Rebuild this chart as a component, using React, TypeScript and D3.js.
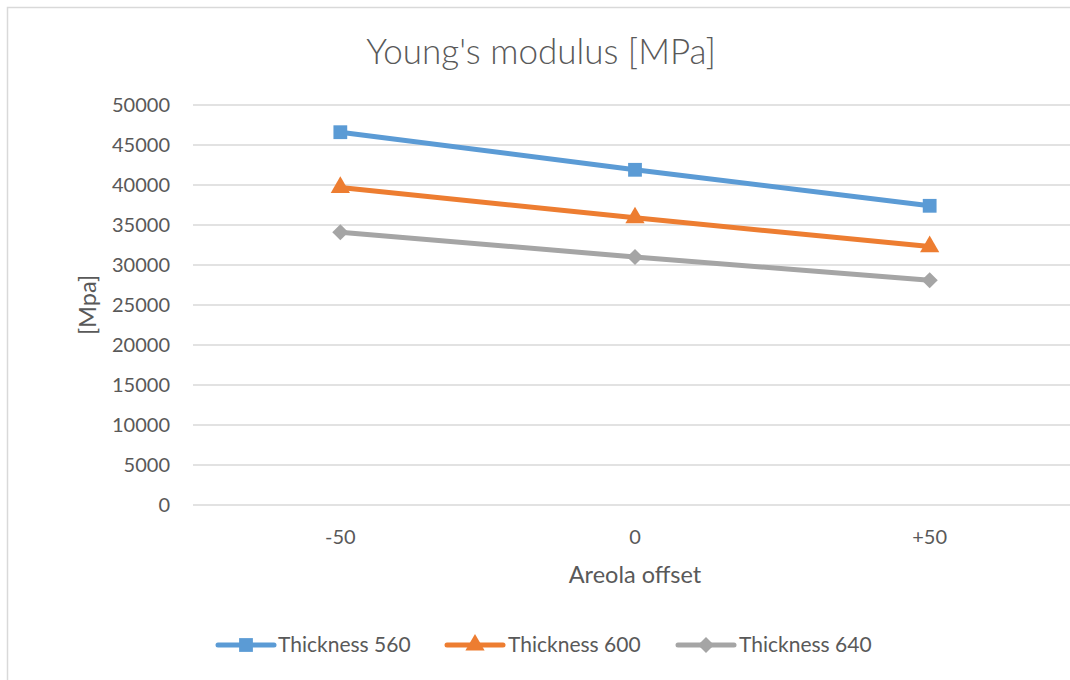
import * as d3 from 'd3';

const categories = ['-50', '0', '+50'];
const yTicks = [0, 5000, 10000, 15000, 20000, 25000, 30000, 35000, 40000, 45000, 50000];

const thickness560 = [46600, 41900, 37400];
const thickness600 = [39700, 35900, 32300];
const thickness640 = [34100, 31000, 28100];

const seriesNames = ['Thickness 560', 'Thickness 600', 'Thickness 640'];

interface Series {
  name: string;
  values: number[];
  color: string;
  marker: 'square' | 'triangle' | 'diamond';
}

const series: Series[] = [
  { name: seriesNames[0], values: thickness560, color: '#5B9BD5', marker: 'square' },
  { name: seriesNames[1], values: thickness600, color: '#ED7D31', marker: 'triangle' },
  { name: seriesNames[2], values: thickness640, color: '#A5A5A5', marker: 'diamond' },
];

const W = 1070;
const H = 680;
const FONT = 'Lato, "Open Sans", sans-serif';
const TEXT = '#595959';

// Excel-like diamond: a square turned 45 degrees
const wideDiamond: d3.SymbolType = {
  draw(context, size) {
    const r = Math.sqrt(size / 2);
    context.moveTo(0, -r);
    context.lineTo(r, 0);
    context.lineTo(0, r);
    context.lineTo(-r, 0);
    context.closePath();
  },
};

function markerPath(kind: Series['marker'], size: number) {
  const type = kind === 'square' ? d3.symbolSquare : kind === 'triangle' ? d3.symbolTriangle : wideDiamond;
  return d3.symbol().type(type).size(size)() || '';
}

export default function App() {
  const plot = { left: 193, right: 1077, top: 105, bottom: 505 };

  const x = d3.scaleBand().domain(categories).range([plot.left, plot.right]).padding(0);
  const y = d3.scaleLinear().domain([0, 50000]).range([plot.bottom, plot.top]);
  const cx = (c: string) => (x(c) || 0) + x.bandwidth() / 2;

  const line = d3
    .line<number>()
    .x((_, i) => cx(categories[i]))
    .y((d) => y(d));

  const sizes = { square: 190, triangle: 160, diamond: 130 };

  const legendItems = [
    { lineX: 218, textX: 278 },
    { lineX: 447, textX: 508 },
    { lineX: 678, textX: 739 },
  ];

  return (
    <div style={{ position: 'fixed', left: 0, top: 0 }}>
      <svg width={W} height={H} style={{ display: 'block', background: '#fff' }} fontFamily={FONT}>
        <rect x={7.5} y={7.5} width={W + 10} height={H + 10} fill="#fff" stroke="#D9D9D9" strokeWidth={1.5} />

        <text x={541} y={64} textAnchor="middle" fill={TEXT} fontSize={35} fontWeight={300}>
          Young's modulus [MPa]
        </text>

        {/* grid + y ticks */}
        {yTicks.map((t) => (
          <g key={t}>
            <line x1={plot.left} x2={plot.right} y1={y(t)} y2={y(t)} stroke="#D9D9D9" strokeWidth={1.5} />
            <text x={170} y={y(t)} dy="0.35em" textAnchor="end" fill={TEXT} fontSize={20}>
              {t}
            </text>
          </g>
        ))}

        {/* x labels */}
        {categories.map((c) => (
          <text key={c} x={cx(c)} y={537} dy="0.35em" textAnchor="middle" fill={TEXT} fontSize={20}>
            {c}
          </text>
        ))}

        <text x={635} y={575} dy="0.35em" textAnchor="middle" fill={TEXT} fontSize={23.5}>
          Areola offset
        </text>
        <text
          transform={`translate(88,${(plot.top + plot.bottom) / 2}) rotate(-90)`}
          textAnchor="middle"
          dy="0.35em"
          fill={TEXT}
          fontSize={23.5}
        >
          [Mpa]
        </text>

        {/* series */}
        {series.map((s) => (
          <g key={s.name}>
            <path d={line(s.values) || ''} fill="none" stroke={s.color} strokeWidth={5} strokeLinejoin="round" />
            {s.values.map((v, i) => (
              <path
                key={i}
                d={markerPath(s.marker, sizes[s.marker])}
                transform={`translate(${cx(categories[i])},${y(v)})`}
                fill={s.color}
              />
            ))}
          </g>
        ))}

        {/* legend */}
        {series.map((s, i) => {
          const item = legendItems[i];
          return (
            <g key={s.name} transform={`translate(${item.lineX},645)`}>
              <line x1={0} x2={56} y1={0} y2={0} stroke={s.color} strokeWidth={5} strokeLinecap="round" />
              <path d={markerPath(s.marker, sizes[s.marker])} transform="translate(28,0)" fill={s.color} />
              <text x={item.textX - item.lineX} y={0} dy="0.35em" fill={TEXT} fontSize={21}>
                {s.name}
              </text>
            </g>
          );
        })}
      </svg>
    </div>
  );
}
